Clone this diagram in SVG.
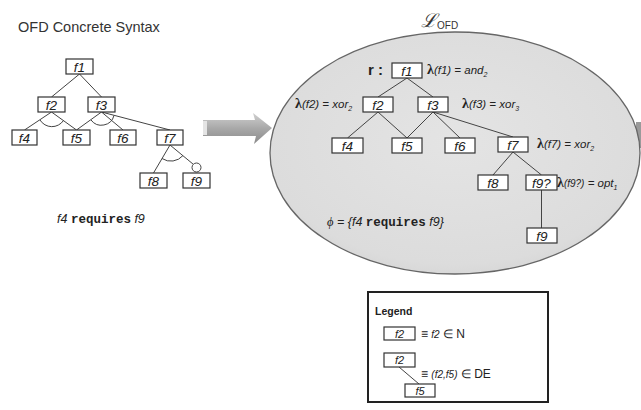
<svg xmlns="http://www.w3.org/2000/svg" width="641" height="410" viewBox="0 0 641 410">
<defs>
<style>
.box{fill:#fff;stroke:#333;stroke-width:1.2}
.lbl{font-family:"Liberation Sans",Arial,sans-serif;font-style:italic;font-size:13.5px;fill:#222;text-anchor:middle}
.lbls{font-family:"Liberation Sans",Arial,sans-serif;font-style:italic;font-size:11px;fill:#222;text-anchor:middle}
.edge{stroke:#444;stroke-width:1;fill:none}
.ann{font-family:"Liberation Sans",Arial,sans-serif;font-style:italic;font-size:11.5px;fill:#222}
.lam{font-family:"Liberation Serif","Times New Roman",serif;font-style:normal;font-weight:bold;font-size:14px}
.sub{font-size:7px}
.mono{font-family:"Liberation Mono","Courier New",monospace;font-weight:bold;font-style:normal}
</style>
<linearGradient id="arrowG" x1="0" y1="0" x2="0" y2="1">
<stop offset="0" stop-color="#d0d0d0"/>
<stop offset="0.5" stop-color="#a8a8a8"/>
<stop offset="1" stop-color="#8a8a8a"/>
</linearGradient>
<radialGradient id="ellG" cx="0.5" cy="0.45" r="0.6">
<stop offset="0" stop-color="#e4e4e4"/>
<stop offset="0.85" stop-color="#dcdcdc"/>
<stop offset="1" stop-color="#d3d3d3"/>
</radialGradient>
</defs>
<rect width="641" height="410" fill="#fff"/>

<text x="18" y="32" font-family="Liberation Sans,Arial,sans-serif" font-size="14.5" fill="#333">OFD Concrete Syntax</text>

<!-- big arrow -->
<g id="arrow">
<polygon points="203,120 255,120 253,113 272,128 254,144 256,136 203,136" fill="url(#arrowG)"/>
<rect x="203" y="121" width="4" height="14" fill="#e4e4e4"/>
</g>

<!-- partial shape at right edge -->
<rect x="636" y="122" width="5" height="26" fill="#9a9a9a"/>

<!-- ellipse -->
<g id="L_OFD">
<ellipse cx="455" cy="153" rx="185" ry="121" fill="url(#ellG)" stroke="#666" stroke-width="1.3"/>
<text x="421" y="27" font-family="Liberation Serif,serif" font-style="italic" font-size="19" fill="#333">ℒ</text>
<text x="437" y="29" font-family="Liberation Sans,Arial,sans-serif" font-size="10" fill="#333">OFD</text>
</g>

<!-- left connectors -->
<g id="left-connectors" class="edge">
<line x1="79.5" y1="74" x2="51.5" y2="97"/>
<line x1="79.5" y1="74" x2="101.5" y2="97"/>
<line x1="51.5" y1="112" x2="24.5" y2="130"/>
<line x1="51.5" y1="112" x2="76.5" y2="130"/>
<line x1="101.5" y1="112" x2="76.5" y2="130"/>
<line x1="101.5" y1="112" x2="123" y2="130"/>
<line x1="101.5" y1="112" x2="170" y2="130"/>
<line x1="170" y1="145" x2="153.5" y2="173"/>
<line x1="170" y1="145" x2="193.3" y2="164.3"/>
<path d="M40,120 A14,14 0 0 0 63.5,120.5"/>
<path d="M91,120 A13,13 0 0 0 114,115.5"/>
<path d="M162,158.5 A16,16 0 0 0 183,155.5"/>
<circle cx="196.5" cy="167.5" r="4.5" fill="#fff"/>
</g>

<!-- left nodes -->
<g id="L-f1"><rect class="box" x="66" y="59" width="27" height="15"/><text class="lbl" x="79.5" y="71.5">f1</text></g>
<g id="L-f2"><rect class="box" x="38" y="97" width="27" height="15"/><text class="lbl" x="51.5" y="109.5">f2</text></g>
<g id="L-f3"><rect class="box" x="88" y="97" width="27" height="15"/><text class="lbl" x="101.5" y="109.5">f3</text></g>
<g id="L-f4"><rect class="box" x="12" y="130" width="25" height="15"/><text class="lbl" x="24.5" y="142.5">f4</text></g>
<g id="L-f5"><rect class="box" x="63" y="130" width="27" height="15"/><text class="lbl" x="76.5" y="142.5">f5</text></g>
<g id="L-f6"><rect class="box" x="110" y="130" width="26" height="15"/><text class="lbl" x="123" y="142.5">f6</text></g>
<g id="L-f7"><rect class="box" x="157" y="130" width="26" height="15"/><text class="lbl" x="170" y="142.5">f7</text></g>
<g id="L-f8"><rect class="box" x="140" y="173" width="27" height="15"/><text class="lbl" x="153.5" y="185.5">f8</text></g>
<g id="L-f9"><rect class="box" x="183" y="173" width="27" height="15"/><text class="lbl" x="196.5" y="185.5">f9</text></g>

<text x="57" y="223" class="ann" style="font-size:12.5px">f4 <tspan class="mono">requires</tspan> f9</text>

<!-- right connectors -->
<g id="right-connectors" class="edge">
<line x1="407" y1="78" x2="378" y2="97"/>
<line x1="407" y1="78" x2="433" y2="97"/>
<line x1="378" y1="112" x2="347.5" y2="138"/>
<line x1="378" y1="112" x2="407" y2="138"/>
<line x1="433" y1="112" x2="407" y2="138"/>
<line x1="433" y1="112" x2="460" y2="138"/>
<line x1="433" y1="112" x2="513" y2="137"/>
<line x1="513" y1="152" x2="493" y2="175"/>
<line x1="513" y1="152" x2="541.5" y2="175"/>
<line x1="541.5" y1="190" x2="541.5" y2="228"/>
</g>

<!-- right nodes -->
<text x="368" y="75" font-family="Liberation Sans,Arial,sans-serif" font-weight="bold" font-size="15" fill="#222">r :</text>
<g id="R-f1"><rect class="box" x="392" y="63" width="30" height="15"/><text class="lbl" x="407" y="75.5">f1</text></g>
<g id="R-f2"><rect class="box" x="363" y="97" width="30" height="15"/><text class="lbl" x="378" y="109.5">f2</text></g>
<g id="R-f3"><rect class="box" x="418" y="97" width="30" height="15"/><text class="lbl" x="433" y="109.5">f3</text></g>
<g id="R-f4"><rect class="box" x="332" y="138" width="31" height="15"/><text class="lbl" x="347.5" y="150.5">f4</text></g>
<g id="R-f5"><rect class="box" x="392" y="138" width="30" height="15"/><text class="lbl" x="407" y="150.5">f5</text></g>
<g id="R-f6"><rect class="box" x="445" y="138" width="30" height="15"/><text class="lbl" x="460" y="150.5">f6</text></g>
<g id="R-f7"><rect class="box" x="498" y="137" width="30" height="15"/><text class="lbl" x="513" y="149.5">f7</text></g>
<g id="R-f8"><rect class="box" x="478" y="175" width="30" height="15"/><text class="lbl" x="493" y="187.5">f8</text></g>
<g id="R-f9q"><rect class="box" x="526" y="175" width="31" height="15"/><text class="lbl" x="541.5" y="187.5">f9?</text></g>
<g id="R-f9"><rect class="box" x="527" y="228" width="30" height="15"/><text class="lbl" x="542" y="240.5">f9</text></g>

<!-- annotations -->
<text class="ann" x="427" y="74"><tspan class="lam">λ</tspan>(f1) = and<tspan class="sub" dy="3">2</tspan></text>
<text class="ann" x="295" y="108"><tspan class="lam">λ</tspan>(f2) = xor<tspan class="sub" dy="3">2</tspan></text>
<text class="ann" x="462" y="108"><tspan class="lam">λ</tspan>(f3) = xor<tspan class="sub" dy="3">3</tspan></text>
<text class="ann" x="537" y="148"><tspan class="lam">λ</tspan>(f7) = xor<tspan class="sub" dy="3">2</tspan></text>
<text class="ann" x="557" y="187"><tspan class="lam">λ</tspan><tspan font-size="10">(f9?)</tspan> = opt<tspan class="sub" dy="3">1</tspan></text>
<text class="ann" x="327" y="226" style="font-size:12.5px"><tspan font-family="Liberation Serif,serif">ϕ</tspan> = {f4 <tspan class="mono">requires</tspan> f9}</text>

<!-- legend -->
<g id="legend">
<rect x="368" y="292" width="180" height="110" fill="#fff" stroke="#222" stroke-width="2"/>
<text x="375" y="315" font-family="Liberation Sans,Arial,sans-serif" font-weight="bold" font-size="10.5" fill="#222">Legend</text>
<rect class="box" x="384" y="327" width="31" height="13"/>
<text class="lbls" x="399.5" y="337.5">f2</text>
<text x="421" y="338" font-family="Liberation Sans,Arial,sans-serif" font-size="12" fill="#222">≡ <tspan font-style="italic" font-size="10">f2</tspan> ∈ N</text>
<line class="edge" x1="399" y1="367" x2="419" y2="384"/>
<rect class="box" x="384" y="353" width="31" height="14"/>
<text class="lbls" x="399.5" y="364">f2</text>
<rect class="box" x="405" y="384" width="30" height="13"/>
<text class="lbls" x="420" y="394.5">f5</text>
<text x="421" y="378" font-family="Liberation Sans,Arial,sans-serif" font-size="12" fill="#222">≡ <tspan font-style="italic" font-size="10">(f2,f5)</tspan> ∈ DE</text>
</g>
</svg>
